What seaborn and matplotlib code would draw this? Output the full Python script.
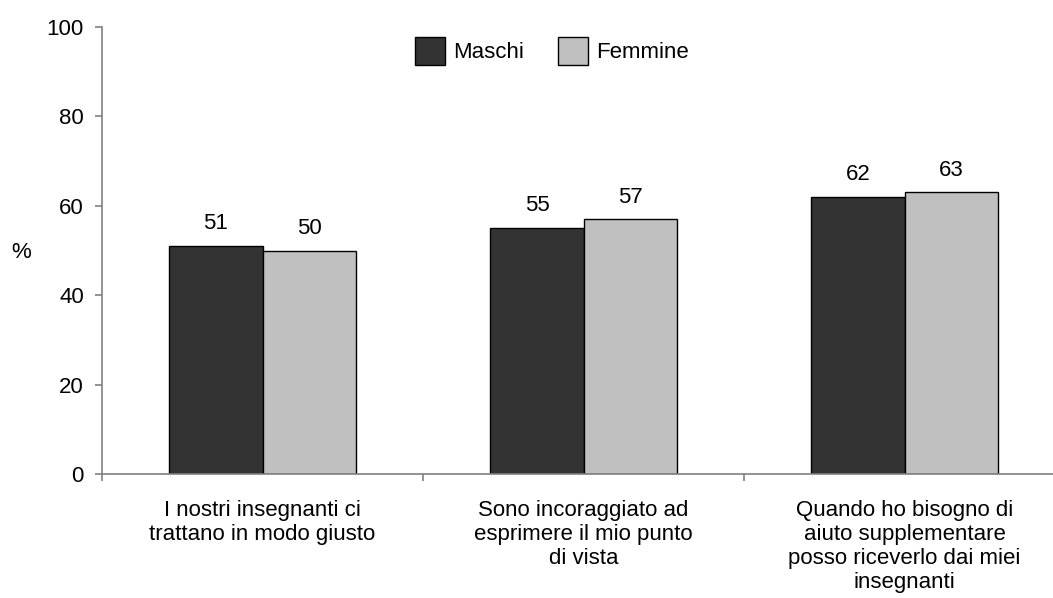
import matplotlib
matplotlib.use("Agg")
import matplotlib.pyplot as plt
import pandas as pd
import seaborn as sns

# values
categories = [
    "I nostri insegnanti ci\ntrattano in modo giusto",
    "Sono incoraggiato ad\nesprimere il mio punto\ndi vista",
    "Quando ho bisogno di\naiuto supplementare\nposso riceverlo dai miei\ninsegnanti",
]
maschi = [51, 55, 62]
femmine = [50, 57, 63]
series = ["Maschi", "Femmine"]
colors = ["#333333", "#c0c0c0"]

df = pd.DataFrame({
    "cat": categories * 2,
    "val": maschi + femmine,
    "sex": [series[0]] * 3 + [series[1]] * 3,
})

sns.set_style("white")
plt.rcParams["font.family"] = ["Liberation Sans", "DejaVu Sans"]
plt.rcParams["text.color"] = "black"
plt.rcParams["axes.labelcolor"] = "black"
FS = 16

fig = plt.figure(figsize=(10.53, 5.98), dpi=100)
ax = fig.add_axes([102 / 1053, 1 - 474 / 598, 963 / 1053, 447 / 598])

sns.barplot(data=df, x="cat", y="val", hue="sex", palette=colors,
            width=0.58, edgecolor="black", linewidth=1.0, ax=ax, legend=True)

# value labels above the bars
for cont in ax.containers:
    for bar in cont:
        h = bar.get_height()
        ax.annotate(f"{h:.0f}", (bar.get_x() + bar.get_width() / 2, h),
                    xytext=(0, 12), textcoords="offset points",
                    ha="center", va="baseline", fontsize=FS, color="black")

ax.set_ylim(0, 100)
ax.set_yticks(range(0, 101, 20))
ax.set_xlim(-0.5, 2.5)
ax.set_xticks([-0.5, 0.5, 1.5, 2.5])
ax.set_xticklabels([])
ax.set_xticks([0, 1, 2], minor=True)
ax.set_xticklabels(categories, minor=True, fontsize=FS, linespacing=1.18)
ax.tick_params(axis="x", which="minor", length=0, pad=19, labelcolor="black")
ax.tick_params(axis="both", which="major", direction="out", length=5,
               color="#808080", width=1.2, labelsize=FS, labelcolor="black",
               left=True, bottom=True)
ax.tick_params(axis="y", pad=8)
ax.set_xlabel("")
ax.set_ylabel("%", rotation=0, fontsize=FS, va="center", ha="center")
ax.yaxis.set_label_coords((21 - 102) / 963, (474 - 252) / 447)

for s in ["top", "right"]:
    ax.spines[s].set_visible(False)
for s in ["left", "bottom"]:
    ax.spines[s].set_color("#808080")
    ax.spines[s].set_linewidth(1.2)

ax.legend(ncol=2, frameon=False, fontsize=FS, loc="center",
          bbox_to_anchor=(552 / 1053, 1 - 51 / 598), bbox_transform=fig.transFigure,
          handlelength=1.35, handleheight=1.6, columnspacing=1.55, handletextpad=0.35)

fig.savefig("out.png", dpi=100)
